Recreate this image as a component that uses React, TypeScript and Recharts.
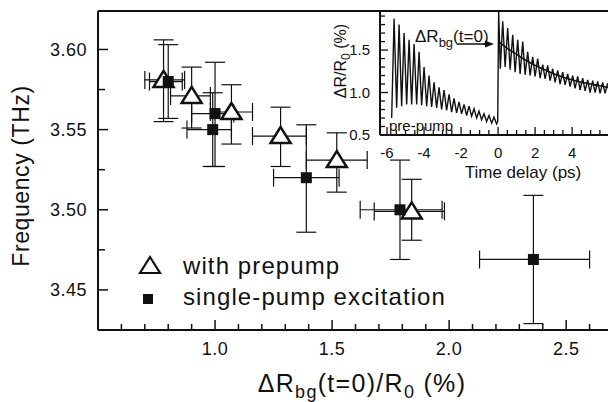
import React from 'react'
import {
  ScatterChart, Scatter, XAxis, YAxis, ErrorBar, ReferenceLine,
  LineChart, Line,
} from 'recharts'

const FONT = '"Liberation Sans", Arial, Helvetica, sans-serif'
const INK = '#111'

// main panel: phonon frequency vs background reflectivity change
const PRE_X    = [0.78, 0.90, 1.07, 1.28, 1.52, 1.84]
const PRE_Y    = [3.581, 3.571, 3.561, 3.546, 3.531, 3.499]
const PRE_X_LO = [0.70, 0.81, 0.98, 1.16, 1.39, 1.68]
const PRE_X_HI = [0.87, 0.98, 1.16, 1.39, 1.65, 1.98]
const PRE_Y_LO = [3.555, 3.551, 3.541, 3.527, 3.511, 3.481]
const PRE_Y_HI = [3.606, 3.589, 3.578, 3.564, 3.548, 3.519]

const SGL_X    = [0.80, 1.00, 0.99, 1.39, 1.79, 2.36]
const SGL_Y    = [3.580, 3.560, 3.550, 3.520, 3.500, 3.469]
const SGL_X_LO = [0.72, 0.90, 0.88, 1.25, 1.62, 2.13]
const SGL_X_HI = [0.86, 1.08, 1.07, 1.53, 1.97, 2.60]
const SGL_Y_LO = [3.557, 3.527, 3.527, 3.486, 3.469, 3.429]
const SGL_Y_HI = [3.603, 3.592, 3.573, 3.553, 3.531, 3.509]

const X_MAJOR = [1.0, 1.5, 2.0, 2.5]
const X_MINOR = [0.6, 0.7, 0.8, 0.9, 1.1, 1.2, 1.3, 1.4, 1.6, 1.7, 1.8, 1.9, 2.1, 2.2, 2.3, 2.4, 2.6]
const Y_MAJOR = [3.45, 3.50, 3.55, 3.60]
const Y_MINOR = [3.475, 3.525, 3.575]

// inset: reflectivity trace with pre-pump
const TRACE_T = [
  -5.75, -5.62, -5.48, -5.35, -5.21, -5.08, -4.94, -4.81, -4.67, -4.54,
  -4.40, -4.27, -4.13, -4.00, -3.86, -3.73, -3.59, -3.46, -3.32, -3.19,
  -3.05, -2.92, -2.78, -2.65, -2.51, -2.38, -2.24, -2.11, -1.97, -1.84,
  -1.70, -1.57, -1.43, -1.30, -1.16, -1.03, -0.89, -0.76, -0.62, -0.49,
  -0.35, -0.22, -0.08, -0.02,
  0.03, 0.12, 0.25, 0.38, 0.52, 0.65, 0.79, 0.92, 1.06, 1.19,
  1.33, 1.46, 1.60, 1.73, 1.87, 2.00, 2.14, 2.27, 2.41, 2.54,
  2.68, 2.81, 2.95, 3.08, 3.22, 3.35, 3.49, 3.62, 3.76, 3.89,
  4.03, 4.16, 4.30, 4.43, 4.57, 4.70, 4.84, 4.97, 5.11, 5.24,
  5.38, 5.51, 5.65, 5.78, 5.92,
]
const TRACE_V = [
  0.70, 1.87, 0.82, 1.80, 0.84, 1.70, 0.86, 1.62, 0.86, 1.57,
  0.86, 1.48, 0.85, 1.30, 0.84, 1.20, 0.83, 1.12, 0.82, 1.06,
  0.80, 1.03, 0.79, 0.98, 0.77, 0.93, 0.76, 0.89, 0.75, 0.86,
  0.73, 0.84, 0.72, 0.81, 0.70, 0.78, 0.68, 0.75, 0.66, 0.73,
  0.64, 0.71, 0.63, 0.66,
  1.96, 1.28, 1.84, 1.30, 1.76, 1.27, 1.68, 1.24, 1.62, 1.22,
  1.60, 1.21, 1.48, 1.20, 1.42, 1.19, 1.40, 1.17, 1.33, 1.16,
  1.32, 1.14, 1.28, 1.12, 1.26, 1.10, 1.24, 1.09, 1.22, 1.07,
  1.20, 1.05, 1.19, 1.03, 1.17, 1.02, 1.15, 1.00, 1.14, 1.00,
  1.13, 0.99, 1.12, 0.99, 1.11,
]
const FIT_T = [0.03, 0.5, 1.0, 1.5, 2.0, 2.5, 3.0, 3.5, 4.0, 4.5, 5.0, 5.5, 5.95]
const FIT_V = [1.60, 1.52, 1.45, 1.38, 1.32, 1.27, 1.22, 1.18, 1.15, 1.12, 1.10, 1.08, 1.06]

const IN_X_MAJOR = [-6, -4, -2, 0, 2, 4]
const IN_X_MINOR = [-5.5, -5, -4.5, -3.5, -3, -2.5, -1.5, -1, -0.5, 0.5, 1, 1.5, 2.5, 3, 3.5, 4.5, 5, 5.5]
const IN_Y_MAJOR = [0.5, 1.0, 1.5]
const IN_Y_MINOR = [0.6, 0.7, 0.8, 0.9, 1.1, 1.2, 1.3, 1.4, 1.6, 1.7, 1.8, 1.9]

function points(x: number[], y: number[], xlo: number[], xhi: number[], ylo: number[], yhi: number[]) {
  return x.map((v, i) => ({
    x: v, y: y[i],
    ex: [v - xlo[i], xhi[i] - v],
    ey: [y[i] - ylo[i], yhi[i] - y[i]],
  }))
}

const prePts = points(PRE_X, PRE_Y, PRE_X_LO, PRE_X_HI, PRE_Y_LO, PRE_Y_HI)
const sglPts = points(SGL_X, SGL_Y, SGL_X_LO, SGL_X_HI, SGL_Y_LO, SGL_Y_HI)
const trace = TRACE_T.map((t, i) => ({ t, v: TRACE_V[i] }))
const fit = FIT_T.map((t, i) => ({ t, v: FIT_V[i] }))

function Tri({ cx, cy }: any) {
  return <polygon points={`${cx},${cy - 9} ${cx - 10},${cy + 7} ${cx + 10},${cy + 7}`}
    fill="#fff" stroke={INK} strokeWidth={2.5} />
}
function Sq({ cx, cy }: any) {
  return <rect x={cx - 5.5} y={cy - 5.5} width={11} height={11} fill={INK} />
}

function MainXTick({ x, y, payload }: any) {
  const major = X_MAJOR.includes(payload.value)
  return (
    <g>
      <line x1={x} x2={x} y1={y} y2={y - (major ? 10 : 6)} stroke={INK} strokeWidth={1.5} />
      {major && <text x={x} y={y + 25} textAnchor="middle" fontSize={18} letterSpacing={0.5} fontFamily={FONT} fill={INK}>
        {payload.value.toFixed(1)}
      </text>}
    </g>
  )
}
function MainYTick({ x, y, payload }: any) {
  const major = Y_MAJOR.includes(payload.value)
  return (
    <g>
      <line x1={x} x2={x + (major ? 10 : 7)} y1={y} y2={y} stroke={INK} strokeWidth={1.5} />
      {major && <text x={x - 11} y={y + 6.5} textAnchor="end" fontSize={18} letterSpacing={0.5} fontFamily={FONT} fill={INK}>
        {payload.value.toFixed(2)}
      </text>}
    </g>
  )
}
function InXTick({ x, y, payload }: any) {
  const major = IN_X_MAJOR.includes(payload.value)
  return (
    <g>
      <line x1={x} x2={x} y1={y} y2={y - (major ? 8 : 5)} stroke={INK} strokeWidth={1.3} />
      {major && <text x={x} y={y + 23} textAnchor="middle" fontSize={15} fontFamily={FONT} fill={INK}>
        {String(payload.value)}
      </text>}
    </g>
  )
}
function InYTick({ x, y, payload }: any) {
  const major = IN_Y_MAJOR.includes(payload.value)
  return (
    <g>
      <line x1={x} x2={x + (major ? 8 : 5)} y1={y} y2={y} stroke={INK} strokeWidth={1.3} />
      {major && <text x={x - 10} y={y + 5.4} textAnchor="end" fontSize={15} fontFamily={FONT} fill={INK}>
        {payload.value.toFixed(1)}
      </text>}
    </g>
  )
}

export default function App() {
  return (
    <div style={{ position: 'absolute', left: 0, top: 0, width: 608, height: 402, overflow: 'hidden', background: '#fff' }}>
      {/* main panel */}
      <div style={{ position: 'absolute', left: 0, top: 0 }}>
        <ScatterChart width={620} height={402} margin={{ top: 11, right: 7, bottom: 0, left: 0 }}>
          <XAxis type="number" dataKey="x" domain={[0.5, 2.7]} allowDataOverflow
            ticks={[...X_MAJOR, ...X_MINOR]} height={72}
            axisLine={{ stroke: INK, strokeWidth: 2 }} tickLine={false} tickSize={0} tickMargin={0}
            tick={<MainXTick />} interval={0} />
          <YAxis type="number" dataKey="y" domain={[3.425, 3.624]} allowDataOverflow
            ticks={[...Y_MAJOR, ...Y_MINOR]} width={98}
            axisLine={{ stroke: INK, strokeWidth: 2 }} tickLine={false} tickSize={0} tickMargin={0}
            tick={<MainYTick />} interval={0} />
          <ReferenceLine y={3.624} stroke={INK} strokeWidth={2} />
          <Scatter data={prePts} shape={<Tri />} isAnimationActive={false}>
            <ErrorBar dataKey="ex" direction="x" width={9} stroke={INK} strokeWidth={1.2} />
            <ErrorBar dataKey="ey" direction="y" width={10} stroke={INK} strokeWidth={1.2} />
          </Scatter>
          <Scatter data={sglPts} shape={<Sq />} isAnimationActive={false}>
            <ErrorBar dataKey="ex" direction="x" width={9} stroke={INK} strokeWidth={1.2} />
            <ErrorBar dataKey="ey" direction="y" width={10} stroke={INK} strokeWidth={1.2} />
          </Scatter>
        </ScatterChart>
      </div>

      {/* inset */}
      <div style={{ position: 'absolute', left: 379, top: 12, width: 240, height: 123, background: '#fff' }} />
      <div style={{ position: 'absolute', left: 300, top: 0 }}>
        <LineChart width={320} height={190} margin={{ top: 11, right: 9, bottom: 0, left: 0 }}>
          <XAxis type="number" dataKey="t" domain={[-6.38, 6.1]} allowDataOverflow
            ticks={[...IN_X_MAJOR, ...IN_X_MINOR]} height={55}
            axisLine={{ stroke: INK, strokeWidth: 2 }} tickLine={false} tickSize={0} tickMargin={0}
            tick={<InXTick />} interval={0} />
          <YAxis type="number" domain={[0.5, 1.96]} allowDataOverflow
            ticks={[...IN_Y_MAJOR, ...IN_Y_MINOR]} width={80}
            axisLine={{ stroke: INK, strokeWidth: 2 }} tickLine={false} tickSize={0} tickMargin={0}
            tick={<InYTick />} interval={0} />
          <ReferenceLine y={1.96} stroke={INK} strokeWidth={2} />
          <Line data={trace} dataKey="v" type="linear" dot={false} stroke={INK} strokeWidth={1.4} isAnimationActive={false} />
          <Line data={fit} dataKey="v" type="monotone" dot={false} stroke={INK} strokeWidth={1.6} isAnimationActive={false} />
        </LineChart>
      </div>

      {/* titles, legend, annotations */}
      <svg width={608} height={402} style={{ position: 'absolute', left: 0, top: 0, pointerEvents: 'none' }}
        fontFamily={FONT} fill={INK}>
        <text transform="translate(29,176) rotate(-90)" textAnchor="middle" fontSize={23} letterSpacing={0.6}>Frequency (THz)</text>
        <text x={362} y={392} textAnchor="middle" fontSize={25} letterSpacing={1.3}>
          ΔR<tspan fontSize={18} dy={6}>bg</tspan><tspan dy={-6}>(t=0)/R</tspan><tspan fontSize={18} dy={6}>0</tspan><tspan dy={-6}> (%)</tspan>
        </text>

        <polygon points="150,257 140,273 160,273" fill="#fff" stroke={INK} strokeWidth={2.2} />
        <text x={183} y={274} fontSize={24} letterSpacing={1.1}>with prepump</text>
        <rect x={143} y={294} width={10} height={10} fill={INK} />
        <text x={183} y={305} fontSize={24} letterSpacing={1.1}>single-pump excitation</text>

        <text transform="translate(346,61) rotate(-90)" textAnchor="middle" fontSize={16}>
          ΔR/R<tspan fontSize={12} dy={4}>0</tspan><tspan dy={-4}> (%)</tspan>
        </text>
        <text x={523} y={178} textAnchor="middle" fontSize={17}>Time delay (ps)</text>
        <text x={415} y={42} fontSize={17}>
          ΔR<tspan fontSize={13} dy={5}>bg</tspan><tspan dy={-5}>(t=0)</tspan>
        </text>
        <line x1={458} y1={44} x2={487} y2={44} stroke={INK} strokeWidth={1.5} />
        <polygon points="485,40.5 494,44 485,47.5" fill={INK} />
        <text x={389} y={131} fontSize={15}>pre-pump</text>
      </svg>
    </div>
  )
}
